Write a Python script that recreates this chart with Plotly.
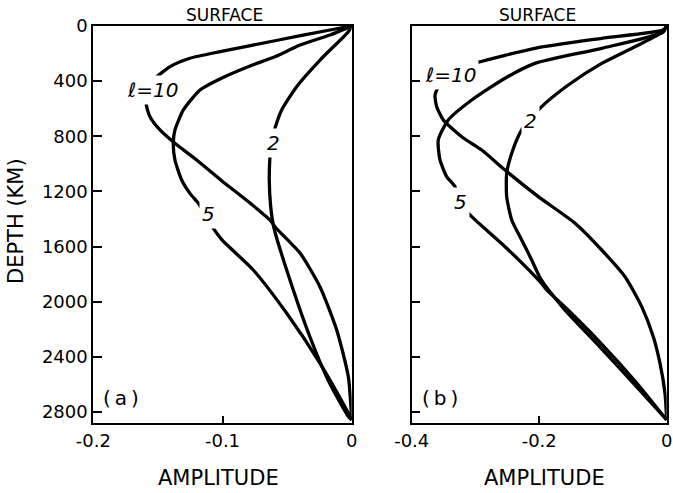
import plotly.graph_objects as go

# ---------------- data ----------------
# Panel (a)
depth_a10 = [0, 29, 107, 186, 234, 295, 392, 480, 560, 658, 754, 851, 972, 1124, 1284, 1407, 1465, 1647, 1893, 2205, 2544, 2858]
amp_a10 = [0, -0.0168, -0.0594, -0.1019, -0.1252, -0.1406, -0.1536, -0.1598, -0.1592, -0.1561, -0.1484, -0.1368,
           -0.1200, -0.1004, -0.0787, -0.0633, -0.0586, -0.0400, -0.0245, -0.0116, -0.0026, 0]

depth_a5 = [0, 65, 138, 223, 290, 377, 464, 609, 754, 851, 972, 1117, 1214, 1286, 1383, 1465, 1552, 1770, 2084, 2447, 2786, 2858]
amp_a5 = [0, -0.0168, -0.0400, -0.0594, -0.0787, -0.1004, -0.1174, -0.1303, -0.1368, -0.1381, -0.1368, -0.1316,
          -0.1252, -0.1187, -0.1122, -0.1073, -0.1004, -0.0762, -0.0503, -0.0245, -0.0039, 0]

depth_a2 = [0, 41, 247, 440, 609, 742, 863, 948, 1117, 1311, 1444, 1494, 1893, 2256, 2568, 2829, 2858]
amp_a2 = [0, -0.0026, -0.0245, -0.0426, -0.0542, -0.0594, -0.0625, -0.0633, -0.0638, -0.0627, -0.0607, -0.0594,
          -0.0460, -0.0323, -0.0183, -0.0029, 0]

# Panel (b)
depth_b10 = [0, 29, 89, 160, 266, 319, 428, 501, 585, 682, 803, 900, 1045, 1238, 1431, 1625, 1819, 2036, 2254, 2447, 2664, 2858]
amp_b10 = [0, -0.0058, -0.1020, -0.2050, -0.2980, -0.3309, -0.3556, -0.3634, -0.3608, -0.3504, -0.3216, -0.2902,
           -0.2536, -0.2014, -0.1438, -0.1020, -0.0654, -0.0392, -0.0210, -0.0105, -0.0027, 0]

depth_b5 = [0, 44, 162, 271, 379, 537, 682, 827, 972, 1093, 1166, 1286, 1383, 1601, 1855, 1915, 2060, 2307, 2575, 2858]
amp_b5 = [0, -0.0058, -0.1020, -0.2066, -0.2536, -0.3059, -0.3426, -0.3583, -0.3556, -0.3451, -0.3320, -0.3242,
          -0.3059, -0.2536, -0.1987, -0.1882, -0.1548, -0.1020, -0.0497, 0]

depth_b2 = [0, 41, 150, 271, 428, 585, 754, 923, 1069, 1238, 1407, 1552, 1697, 1819, 1905, 1980, 2067, 2329, 2593, 2858]
amp_b2 = [0, -0.0053, -0.0497, -0.1020, -0.1544, -0.1961, -0.2275, -0.2431, -0.2510, -0.2510, -0.2431, -0.2275,
          -0.2118, -0.1995, -0.1870, -0.1740, -0.1585, -0.1046, -0.0521, 0]

depth_ticks = [0, 400, 800, 1200, 1600, 2000, 2400, 2800]
depth_ticklabels = ["0", "400", "800", "1200", "1600", "2000", "2400", "2800"]
amp_ticks_a = [-0.2, -0.1, 0]
amp_ticklabels_a = ["-0.2", "-0.1", "0"]
amp_ticks_b = [-0.4, -0.2, 0]
amp_ticklabels_b = ["-0.4", "-0.2", "0"]

curve_labels_a = [("<i>ℓ=10</i>", -0.1542, 464), ("<i>2</i>", -0.0605, 849), ("<i>5</i>", -0.1112, 1364)]
curve_labels_b = [("<i>ℓ=10</i>", -0.3384, 355), ("<i>2</i>", -0.2129, 689), ("<i>5</i>", -0.3227, 1277)]

# ---------------- figure ----------------
W, H = 673, 493
FONT = "DejaVu Sans"
fig = go.Figure()

line = dict(color="black", width=3.3, shape="spline", smoothing=0.6)
for xs, ys in [(amp_a10, depth_a10), (amp_a5, depth_a5), (amp_a2, depth_a2)]:
    fig.add_trace(go.Scatter(x=xs, y=ys, mode="lines", line=line, xaxis="x", yaxis="y",
                             showlegend=False, hoverinfo="skip"))
for xs, ys in [(amp_b10, depth_b10), (amp_b5, depth_b5), (amp_b2, depth_b2)]:
    fig.add_trace(go.Scatter(x=xs, y=ys, mode="lines", line=line, xaxis="x2", yaxis="y2",
                             showlegend=False, hoverinfo="skip"))

def px_x(p):
    return p / W

def px_y(p):
    return 1 - p / H

common_axis = dict(showline=True, linecolor="black", linewidth=2, mirror=True, showgrid=False,
                   zeroline=False, ticks="inside", tickcolor="black", tickwidth=2,
                   tickfont=dict(family=FONT, size=18, color="black"), tickmode="array",
                   ticklabeloverflow="allow", automargin=False)

ydom = [px_y(423), px_y(26)]
fig.update_layout(
    width=W, height=H, margin=dict(l=0, r=0, t=0, b=0, autoexpand=False),
    paper_bgcolor="white", plot_bgcolor="white",
    xaxis=dict(common_axis, domain=[px_x(93.3), px_x(351.7)], range=[-0.2, 0], anchor="y",
               tickvals=amp_ticks_a, ticktext=amp_ticklabels_a, ticklen=7),
    yaxis=dict(common_axis, domain=ydom, range=[2880, 0], anchor="x",
               tickvals=depth_ticks, ticktext=depth_ticklabels, ticklen=9),
    xaxis2=dict(common_axis, domain=[px_x(411.7), px_x(666.7)], range=[-0.4, 0], anchor="y2",
                tickvals=amp_ticks_b, ticktext=amp_ticklabels_b, ticklen=7),
    yaxis2=dict(common_axis, domain=ydom, range=[2880, 0], anchor="x2",
                tickvals=depth_ticks, ticktext=depth_ticklabels, ticklen=8, showticklabels=False),
)

ann = []
def add_text(text, x, y, xref="paper", yref="paper", size=18, **kw):
    ann.append(dict(text=text, x=x, y=y, xref=xref, yref=yref, showarrow=False,
                    xanchor="center", yanchor="middle",
                    font=dict(family=FONT, size=size, color="black"), **kw))

for cx in (224, 537):
    add_text("SURFACE", px_x(cx), px_y(14.5), size=17)
for cx in (218.5, 544):
    add_text("AMPLITUDE", px_x(cx), px_y(478), size=21)
add_text("DEPTH (KM)", px_x(16), px_y(221), size=21, textangle=-90)

for (t, xv, yv) in curve_labels_a:
    add_text(t, xv, yv, xref="x", yref="y", size=20, bgcolor="white", borderpad=2)
for (t, xv, yv) in curve_labels_b:
    add_text(t, xv, yv, xref="x2", yref="y2", size=20, bgcolor="white", borderpad=2)

add_text("(\u2009a\u2009)", -0.1786, 2702, xref="x", yref="y", size=20)
add_text("(\u2009b\u2009)", -0.3556, 2702, xref="x2", yref="y2", size=20)

fig.update_layout(annotations=ann)
fig.write_html("out.html")
